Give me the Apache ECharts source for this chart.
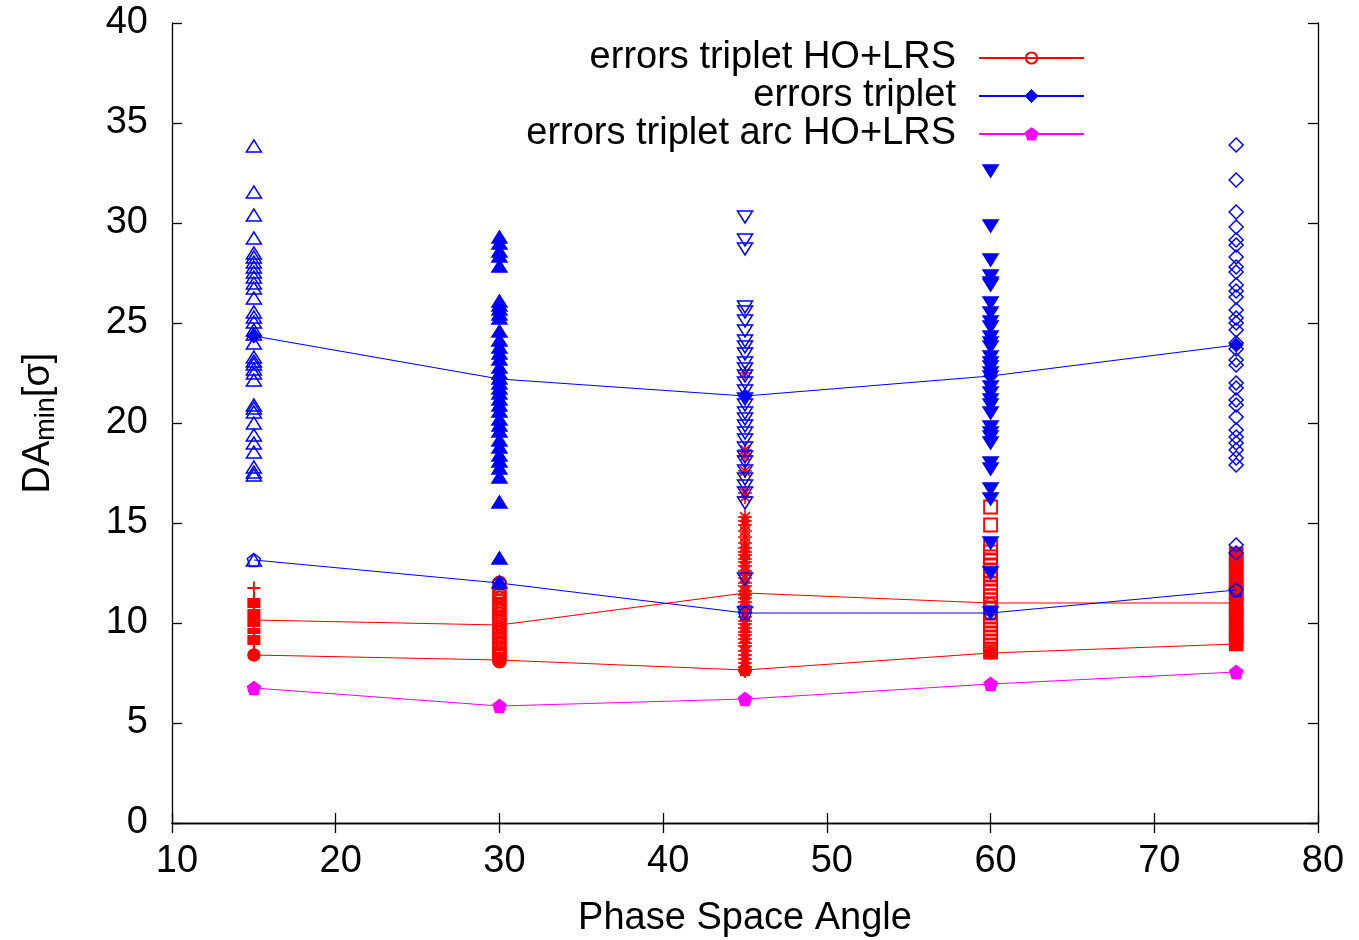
<!DOCTYPE html>
<html>
<head>
<meta charset="utf-8">
<script src="https://cdn.jsdelivr.net/npm/echarts@6/dist/echarts.min.js"></script>
<style>
html,body{margin:0;padding:0;background:#fff;}
#chart{width:1359px;height:940px;}
</style>
</head>
<body>
<div id="chart"></div>
<script>
// ---- data ----
const angles = [15, 30, 45, 60, 75];
const xTicks = [10, 20, 30, 40, 50, 60, 70, 80];
const yTicks = [0, 5, 10, 15, 20, 25, 30, 35, 40];

const legendNames = ['errors triplet HO+LRS', 'errors triplet', 'errors triplet arc HO+LRS'];

const redUpper = [10.15, 9.9, 11.5, 11.0, 11.0];
const redLower = [8.4, 8.15, 7.65, 8.5, 8.95];
const blueUpper = [24.35, 22.2, 21.35, 22.35, 23.9];
const blueLower = [13.15, 12.0, 10.5, 10.5, 11.65];
const magentaLine = [6.75, 5.85, 6.2, 6.95, 7.55];

const blue15 = [33.85, 31.55, 30.4, 29.25, 28.5, 28.3, 28.05, 27.8, 27.55, 27.3, 27.0, 26.75, 26.25, 25.55, 25.3, 25.05, 24.65, 24.45, 24.0, 23.3, 23.1, 22.95, 22.7, 22.5, 22.15, 20.9, 20.75, 20.55, 20.0, 19.4, 19.0, 18.55, 17.8, 17.55, 17.4, 13.15];
const blue30 = [29.3, 29.0, 28.6, 28.35, 27.85, 26.1, 25.9, 25.7, 25.45, 25.25, 24.6, 24.15, 23.8, 23.5, 23.2, 22.8, 22.5, 22.25, 22.0, 21.75, 21.5, 21.2, 20.9, 20.6, 20.2, 19.9, 19.6, 19.15, 18.8, 18.4, 18.1, 17.75, 17.3, 16.05, 13.25, 12.05];
const blue45 = [30.3, 29.15, 28.7, 25.8, 25.55, 25.1, 24.6, 24.1, 23.8, 23.45, 23.0, 22.7, 22.35, 22.0, 21.6, 21.2, 20.9, 20.5, 20.2, 19.85, 19.5, 19.15, 18.75, 18.3, 18.05, 17.6, 17.2, 16.85, 16.5, 16.0, 12.2, 10.5];
const blue60 = [32.6, 29.85, 28.15, 27.35, 27.0, 26.9, 26.0, 25.5, 25.05, 24.8, 24.3, 24.0, 23.8, 23.3, 23.0, 22.8, 22.5, 22.3, 21.8, 21.5, 21.15, 20.9, 20.5, 19.8, 19.5, 19.3, 19.0, 18.0, 17.7, 16.7, 16.2, 14.0, 12.5, 10.5];
const blue75 = [33.9, 32.15, 30.55, 29.8, 29.15, 28.9, 28.3, 27.8, 27.55, 26.9, 26.6, 26.3, 25.65, 25.25, 25.0, 24.65, 24.0, 23.7, 23.15, 22.9, 22.0, 21.75, 21.15, 20.9, 20.3, 19.65, 19.3, 19.0, 18.65, 18.25, 17.9, 13.9, 13.5, 11.65];

const red15 = [11.75, 11.2, 11.1, 11.0, 10.9, 10.8, 10.65, 10.55, 10.45, 10.35, 10.25, 10.15, 10.05, 9.95, 9.85, 9.7, 9.6, 9.5, 9.35, 9.25, 9.15, 9.05, 8.95];
const red30 = [12.0, 11.75, 11.55, 11.4, 11.25, 11.1, 10.95, 10.85, 10.7, 10.6, 10.45, 10.3, 10.2, 10.1, 9.95, 9.8, 9.7, 9.55, 9.45, 9.3, 9.2, 9.05, 8.95, 8.8, 8.7, 8.55, 8.45, 8.35, 8.2, 8.1];
const red45 = [22.5, 18.65, 18.35, 17.6, 16.5, 16.3, 15.3, 15.1, 14.9, 14.6, 14.3, 14.0, 13.75, 13.55, 13.4, 13.2, 13.05, 12.85, 12.6, 12.4, 12.25, 12.0, 11.85, 11.6, 11.4, 11.25, 11.05, 10.85, 10.7, 10.5, 10.3, 10.1, 9.95, 9.75, 9.55, 9.4, 9.2, 9.0, 8.85, 8.6, 8.4, 8.2, 8.0, 7.8, 7.6];
const red60 = [15.8, 14.9, 13.8, 13.55, 13.3, 13.1, 12.85, 12.6, 12.4, 12.2, 12.0, 11.8, 11.6, 11.35, 11.15, 10.95, 10.75, 10.5, 10.3, 10.1, 9.9, 9.7, 9.5, 9.3, 9.1, 8.9, 8.7, 8.55];
const red75 = [13.45, 13.2, 12.95, 12.75, 12.45, 12.2, 11.95, 11.7, 11.5, 11.2, 10.95, 10.7, 10.45, 10.25, 9.95, 9.7, 9.45, 9.2, 8.95];

// ---- helpers ----
const RED = '#ff0000', BLUE = '#0000ff', MAG = '#ff00ff';
const FONT = 'Liberation Sans, Arial, Helvetica, sans-serif';
const PLUS = 'path://M5,0L5,10M0,5L10,5';
const STAR = 'path://M5,0L5,10M0,5L10,5M1.5,1.5L8.5,8.5M8.5,1.5L1.5,8.5';
const PENT = 'path://M5,0L10,3.8L8.1,10L1.9,10L0,3.8Z';
const CLEAR = 'rgba(0,0,0,0)';

function pts(x, arr) { return arr.map(v => [x, v]); }
function lineData(arr) { return angles.map((a, i) => [a, arr[i]]); }

function scatter(name, x, arr, symbol, size, color, filled, rotate, z, bw) {
  return {
    type: 'scatter', name: name, data: pts(x, arr), symbol: symbol, symbolSize: size,
    symbolRotate: rotate || 0, z: z,
    itemStyle: { color: filled ? color : CLEAR, borderColor: color, borderWidth: bw || 1.5, opacity: 1 },
    emphasis: { disabled: true }, silent: true
  };
}
function line(name, arr, color, symbol, size, filled, z) {
  return {
    type: 'line', name: name, data: lineData(arr), symbol: symbol, symbolSize: size, z: z,
    showSymbol: true,
    lineStyle: { color: color, width: 1.1 },
    itemStyle: { color: filled ? color : CLEAR, borderColor: color, borderWidth: 1.4 },
    emphasis: { disabled: true }, silent: true
  };
}

const chart = echarts.init(document.getElementById('chart'), null, { renderer: 'canvas' });
const axisCommon = {
  axisLine: { show: true, lineStyle: { color: '#000', width: 1.3 } },
  axisTick: { show: true, inside: true, length: 10, lineStyle: { color: '#000', width: 1.3 } },
  splitLine: { show: false }
};
const option = {
  animation: false,
  backgroundColor: '#fff',
  textStyle: { fontFamily: FONT },
  grid: { left: 172, right: 41, top: 23, bottom: 117, containLabel: false, outerBoundsMode: 'none' },
  legend: {
    data: legendNames,
    orient: 'vertical',
    align: 'right',
    right: 274,
    top: 39,
    padding: 0,
    itemGap: 0,
    itemWidth: 105,
    itemHeight: 14,
    selectedMode: false,
    textStyle: { fontSize: 38, color: '#000', fontFamily: FONT, padding: [0, 18, 0, 0] }
  },
  xAxis: [
    Object.assign({
      type: 'value', min: xTicks[0], max: xTicks[xTicks.length - 1], interval: 10,
      name: 'Phase Space Angle', nameLocation: 'middle', nameGap: 77,
      nameTextStyle: { fontSize: 38, color: '#000', fontFamily: FONT },
      axisLabel: { fontSize: 38, color: '#000', margin: 20, fontFamily: FONT, padding: [0, 0, 0, 10] }
    }, axisCommon),
    Object.assign({
      type: 'value', position: 'top', min: xTicks[0], max: xTicks[xTicks.length - 1], interval: 10,
      axisLabel: { show: false }
    }, axisCommon)
  ],
  yAxis: [
    Object.assign({
      type: 'value', min: yTicks[0], max: yTicks[yTicks.length - 1], interval: 5,
      name: '{a|DA}{s|min}{a|[σ]}', nameLocation: 'middle', nameGap: 112, nameRotate: 90,
      nameTextStyle: {
        color: '#000', fontFamily: FONT,
        rich: {
          a: { fontSize: 38, color: '#000', fontFamily: FONT, lineHeight: 40, verticalAlign: 'top' },
          s: { fontSize: 27, color: '#000', fontFamily: FONT, lineHeight: 27, verticalAlign: 'bottom', padding: [22, 0, 0, 0] }
        }
      },
      axisLabel: { fontSize: 38, color: '#000', margin: 24, fontFamily: FONT }
    }, axisCommon),
    Object.assign({
      type: 'value', position: 'right', min: yTicks[0], max: yTicks[yTicks.length - 1], interval: 5,
      axisLabel: { show: false }
    }, axisCommon)
  ],
  series: [
    line('red lower', redLower, RED, 'circle', 12, true, 3),
    line(legendNames[0], redUpper, RED, 'circle', 10, false, 3),
    scatter('r15', 15, red15, PLUS, 13, RED, false, 0, 4, 1.8),
    scatter('r30', 30, red30, 'circle', 13, RED, false, 0, 4, 1.8),
    scatter('r45', 45, red45, STAR, 14, RED, false, 0, 4, 1.6),
    scatter('r60', 60, red60, 'rect', 13, RED, false, 0, 4, 1.8),
    scatter('r75', 75, red75, 'rect', 13, RED, true, 0, 4, 1.5),
    scatter('b15', 15, blue15, 'triangle', [15, 12], BLUE, false, 0, 5),
    scatter('b30', 30, blue30, 'triangle', [15, 12], BLUE, true, 0, 5),
    scatter('b45', 45, blue45, 'triangle', [15, 12], BLUE, false, 180, 5),
    scatter('b60', 60, blue60, 'triangle', [15, 12], BLUE, true, 180, 5),
    scatter('b75', 75, blue75, 'diamond', 14, BLUE, false, 0, 5),
    line(legendNames[1], blueUpper, BLUE, 'diamond', 13, true, 6),
    line('blue lower', blueLower, BLUE, PENT, 13, false, 6),
    line(legendNames[2], magentaLine, MAG, PENT, 13, true, 6)
  ]
};
option.series.forEach(s => { s.xAxisIndex = 0; s.yAxisIndex = 0; });
chart.setOption(option);
</script>
</body>
</html>
